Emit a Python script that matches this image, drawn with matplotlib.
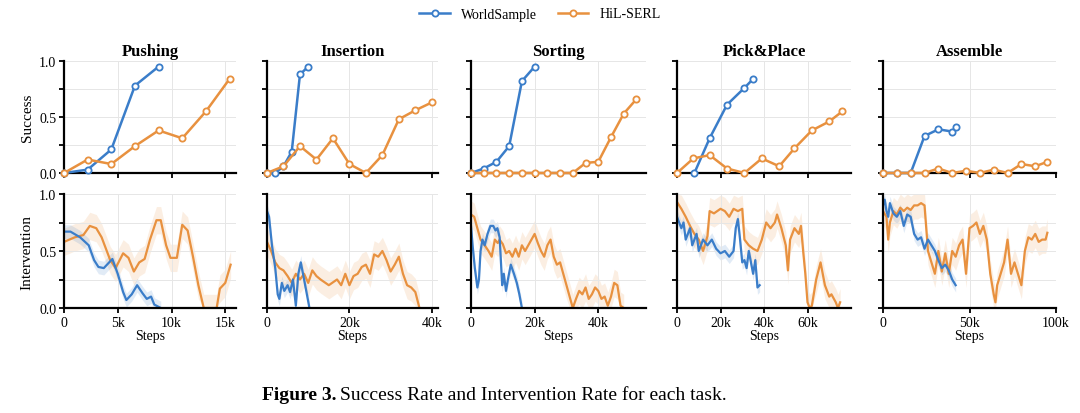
import numpy as np
import matplotlib.pyplot as plt

plt.rcParams['font.family'] = ['Liberation Serif', 'DejaVu Serif']

tasks = ['Pushing', 'Insertion', 'Sorting', 'Pick&Place', 'Assemble']
xmax = [16.0, 41.5, 55.0, 80.0, 100.0]           # k steps
xticks = [[0, 5, 10, 15], [0, 20, 40], [0, 20, 40], [0, 20, 40, 60], [0, 50, 100]]

# success: (steps in k, rate)
ws_succ = [
    ([0, 2.2, 4.4, 6.6, 8.8], [0, 0.03, 0.21, 0.78, 0.95]),
    ([0, 2, 4, 6, 8, 10], [0, 0, 0.06, 0.19, 0.88, 0.95]),
    ([0, 4, 8, 12, 16, 20], [0, 0.04, 0.10, 0.24, 0.82, 0.95]),
    ([8, 15, 23, 31, 35], [0, 0.31, 0.61, 0.76, 0.84]),
    ([0, 8, 16, 24, 32, 40, 42], [0, 0, 0, 0.33, 0.39, 0.37, 0.41]),
]
hil_succ = [
    ([0, 2.2, 4.4, 6.6, 8.8, 11, 13.2, 15.4], [0, 0.12, 0.08, 0.24, 0.38, 0.31, 0.55, 0.84]),
    ([0, 4, 8, 12, 16, 20, 24, 28, 32, 36, 40], [0, 0.06, 0.24, 0.12, 0.31, 0.08, 0.0, 0.16, 0.48, 0.56, 0.63]),
    ([0, 4, 8, 12, 16, 20, 24, 28, 32, 36, 40, 44, 48, 52],
     [0, 0, 0, 0, 0, 0, 0, 0, 0, 0.09, 0.10, 0.32, 0.53, 0.66]),
    ([0, 7.5, 15, 23, 31, 39, 47, 54, 62, 70, 76], [0, 0.13, 0.16, 0.04, 0.0, 0.13, 0.06, 0.22, 0.38, 0.46, 0.55]),
    ([0, 8, 16, 24, 32, 40, 48, 56, 64, 72, 80, 88, 95], [0, 0, 0, 0, 0.04, 0, 0.02, 0, 0.03, 0, 0.08, 0.06, 0.10]),
]

# intervention: (steps in k, rate)
ws_int = [
    ([0, 0.6, 1.5, 2.3, 2.8, 3.2, 3.7, 4.2, 4.5, 5.0, 5.5, 5.8, 6.3, 6.8, 7.3, 7.7, 8.1, 8.4, 9.0],
     [0.67, 0.67, 0.62, 0.55, 0.42, 0.36, 0.35, 0.40, 0.43, 0.30, 0.14, 0.07, 0.12, 0.20, 0.13, 0.08, 0.10, 0.03, 0.0]),
    ([0, 0.5, 1.2, 2, 2.6, 3, 3.6, 4.2, 5, 5.6, 6.3, 7, 7.6, 8.2, 9, 10.3],
     [0.85, 0.80, 0.55, 0.35, 0.12, 0.08, 0.22, 0.15, 0.20, 0.14, 0.25, 0.02, 0.30, 0.40, 0.25, 0.0]),
    ([0, 0.5, 1.2, 2, 2.5, 3, 3.6, 4.3, 5.2, 6.1, 7, 7.7, 8.3, 9, 9.8, 10.3, 11, 11.6, 12.5, 13.5, 14.4, 15.2, 16],
     [0.72, 0.55, 0.35, 0.18, 0.25, 0.5, 0.6, 0.55, 0.65, 0.72, 0.72, 0.68, 0.7, 0.62, 0.2, 0.3, 0.15, 0.25, 0.38, 0.3, 0.22, 0.12, 0.0]),
    ([0, 2, 3, 4, 6, 7, 9, 10, 12, 14, 16, 18, 20, 22, 24, 26, 27, 28, 29, 30, 31, 32, 33, 34, 35, 36, 37, 38],
     [0.8, 0.7, 0.75, 0.6, 0.7, 0.55, 0.65, 0.5, 0.6, 0.55, 0.6, 0.52, 0.48, 0.5, 0.45, 0.5, 0.7, 0.78,
      0.6, 0.4, 0.42, 0.35, 0.5, 0.4, 0.3, 0.42, 0.18, 0.2]),
    ([0, 1, 2, 3, 4, 6, 8, 10, 12, 14, 16, 18, 20, 22, 24, 26, 28, 30, 32, 34, 36, 38, 40, 42],
     [0.9, 0.95, 0.85, 0.8, 0.92, 0.83, 0.8, 0.85, 0.72, 0.82, 0.8, 0.65, 0.6, 0.62, 0.52, 0.6, 0.55, 0.5,
      0.42, 0.35, 0.38, 0.33, 0.25, 0.2]),
]
hil_int = [
    ([0, 1, 1.8, 2.4, 3, 3.5, 4.3, 4.8, 5.5, 6.0, 6.5, 7.0, 7.5, 8.0, 8.6, 9.0, 9.5, 9.9, 10.5, 11.0,
      11.5, 12.0, 12.5, 13.0, 13.6, 14.2, 14.5, 15.0, 15.5],
     [0.58, 0.62, 0.64, 0.72, 0.70, 0.62, 0.42, 0.35, 0.48, 0.44, 0.32, 0.40, 0.43, 0.60, 0.77, 0.77, 0.55,
      0.44, 0.44, 0.73, 0.68, 0.45, 0.20, 0.0, 0.0, 0.0, 0.17, 0.22, 0.38]),
    ([0, 1, 2, 3, 4, 5, 6, 7, 8, 9, 10, 11, 12, 13, 15, 17, 18, 19, 20, 21, 22, 23, 24, 25, 26, 27, 28,
      29, 30, 31, 32, 33, 34, 35, 36, 37],
     [0.58, 0.5, 0.4, 0.35, 0.33, 0.28, 0.22, 0.3, 0.25, 0.3, 0.22, 0.33, 0.28, 0.25, 0.2, 0.25, 0.2, 0.3,
      0.2, 0.28, 0.3, 0.36, 0.38, 0.3, 0.47, 0.45, 0.5, 0.42, 0.32, 0.38, 0.45, 0.3, 0.2, 0.18, 0.14, 0.0]),
    ([0, 1, 2, 3, 4.3, 5.5, 6.5, 7.5, 8.4, 9, 10, 11, 12, 13, 14, 15, 16, 17, 18, 19, 20, 21, 22, 23, 24,
      25, 26, 27, 28, 29, 30, 31, 32, 33, 34, 35, 36, 37, 38, 39, 40, 41, 42, 43, 44, 45, 46, 47, 48],
     [0.82, 0.8, 0.7, 0.6, 0.55, 0.5, 0.45, 0.6, 0.57, 0.6, 0.56, 0.48, 0.5, 0.45, 0.52, 0.45, 0.55, 0.5,
      0.55, 0.6, 0.65, 0.57, 0.5, 0.45, 0.55, 0.6, 0.45, 0.38, 0.4, 0.3, 0.2, 0.1, 0.0, 0.08, 0.15, 0.12,
      0.18, 0.08, 0.12, 0.18, 0.15, 0.08, 0.1, 0.02, 0.1, 0.22, 0.2, 0.02, 0.0]),
    ([0, 2, 4, 6, 8, 10, 12, 14, 15, 17, 20, 22, 24, 26, 28, 30, 31, 33, 35, 37, 39, 41, 43, 45, 46, 48,
      50, 51, 52, 54, 56, 57, 58, 59, 60, 61, 62, 64, 66, 67, 68, 70, 71, 73, 74, 75],
     [0.93, 0.87, 0.8, 0.72, 0.65, 0.6, 0.5, 0.63, 0.85, 0.83, 0.87, 0.85, 0.8, 0.87, 0.85, 0.87, 0.6, 0.55,
      0.52, 0.5, 0.6, 0.75, 0.7, 0.75, 0.82, 0.7, 0.55, 0.33, 0.6, 0.7, 0.65, 0.72, 0.5, 0.3, 0.05, 0.0,
      0.02, 0.25, 0.4, 0.3, 0.2, 0.1, 0.12, 0.05, 0.0, 0.05]),
    ([0, 2, 3, 4, 6, 8, 10, 12, 14, 16, 18, 20, 22, 24, 26, 28, 30, 32, 34, 36, 38, 40, 42, 44, 46, 48,
      50, 52, 54, 56, 58, 60, 62, 64, 65, 66, 68, 70, 72, 74, 76, 78, 80, 82, 84, 86, 88, 90, 92, 94, 95],
     [0.85, 0.8, 0.6, 0.75, 0.85, 0.82, 0.88, 0.85, 0.88, 0.86, 0.9, 0.9, 0.92, 0.9, 0.5, 0.4, 0.3, 0.5,
      0.32, 0.48, 0.3, 0.5, 0.45, 0.55, 0.6, 0.3, 0.7, 0.72, 0.75, 0.65, 0.72, 0.6, 0.3, 0.12, 0.05, 0.2,
      0.3, 0.4, 0.6, 0.3, 0.4, 0.3, 0.2, 0.5, 0.62, 0.6, 0.65, 0.58, 0.6, 0.6, 0.66]),
]
band_ws = 0.06
band_hil = 0.12

BLUE = '#3a7dc9'
ORANGE = '#e8913f'

fig = plt.figure(figsize=(10.8, 4.14), dpi=100)
lefts = [64, 267, 471, 677, 883]
widths = [172, 171, 175, 174, 173]
W, H = 1080, 414

def style(ax, i, row):
    ax.set_xlim(0, xmax[i] * 1000)
    ax.set_ylim(0, 1.0)
    ax.set_xticks([t * 1000 for t in xticks[i]])
    ax.set_yticks([0, 0.25, 0.5, 0.75, 1.0])
    ax.grid(True, color='#e6e6e6', lw=0.7)
    for s in ['top', 'right']:
        ax.spines[s].set_visible(False)
    for s in ['left', 'bottom']:
        ax.spines[s].set_linewidth(1.6)
    ax.tick_params(width=1.3, length=3.5, labelsize=10, pad=2)
    if i == 0:
        ax.set_yticklabels(['0.0', '', '0.5', '', '1.0'])
    else:
        ax.set_yticklabels([])
    if row == 0:
        ax.set_xticklabels([])
    else:
        ax.set_xticklabels(['0' if t == 0 else f'{t}k' for t in xticks[i]])
        ax.set_xlabel('Steps', fontsize=10, labelpad=0)

for i in range(5):
    l = lefts[i] / W
    w = widths[i] / W
    ax1 = fig.add_axes([l, 1 - 174 / H, w, 112 / H])
    ax2 = fig.add_axes([l, 1 - 309 / H, w, 114 / H])
    for (x, y), c, lab in [(ws_succ[i], BLUE, 'WorldSample'), (hil_succ[i], ORANGE, 'HiL-SERL')]:
        ax1.plot(np.array(x) * 1000, y, '-o', color=c, lw=1.8, ms=4.5, mfc='white', mew=1.3,
                 label=lab, clip_on=False, zorder=3)
    for (x, y), c, b in [(hil_int[i], ORANGE, band_hil), (ws_int[i], BLUE, band_ws)]:
        x = np.array(x) * 1000
        y = np.array(y)
        ax2.fill_between(x, np.clip(y - b, 0, 1), np.clip(y + b, 0, 1), color=c, alpha=0.15, lw=0)
        ax2.plot(x, y, color=c, lw=1.6)
    ax1.set_title(tasks[i], fontsize=12, fontweight='bold', pad=4)
    style(ax1, i, 0)
    style(ax2, i, 1)
    if i == 0:
        ax1.set_ylabel('Success', fontsize=11)
        ax2.set_ylabel('Intervention', fontsize=11)
        handles, labels = ax1.get_legend_handles_labels()

fig.legend(handles, labels, loc='center', bbox_to_anchor=(0.5, 1 - 15 / H), ncol=2,
           frameon=False, fontsize=10, handlelength=2.2, columnspacing=1.5)

fig.text(262 / W, 1 - 396 / H, 'Figure 3.', fontsize=14, fontweight='bold', va='center')
fig.text(340 / W, 1 - 396 / H, 'Success Rate and Intervention Rate for each task.', fontsize=14, va='center')

fig.savefig('out.png', dpi=100)
